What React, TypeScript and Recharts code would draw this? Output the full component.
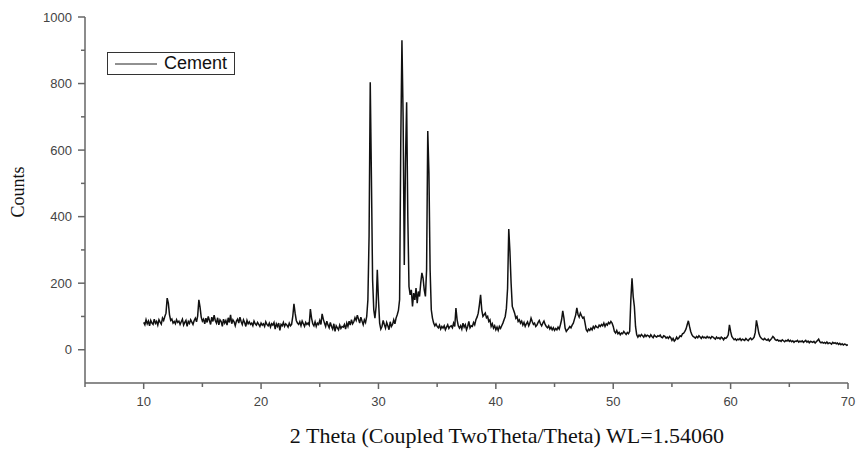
import React from "react";
import {
  LineChart,
  Line,
  XAxis,
  YAxis,
  Legend,
} from "recharts";

// scan grid of the diffractometer (degrees 2θ)
const scanStart = 10;
const scanStep = 0.1;

// counts, one row per degree (x.0 ... x.9)
const counts10to20 = [
  82, 75, 90, 78, 86, 72, 88, 80, 76, 92,
  79, 85, 74, 90, 83, 77, 95, 88, 100, 110,
  155, 140, 105, 88, 92, 80, 85, 78, 90, 82,
  86, 76, 84, 92, 74, 82, 88, 70, 85, 79,
  90, 83, 76, 88, 95, 84, 102, 150, 128, 98,
  86, 92, 78, 95, 82, 100, 88, 76, 98, 85,
  104, 88, 80, 96, 75, 90, 85, 70, 92, 80,
  88, 74, 96, 82, 105, 78, 90, 84, 72, 86,
  92, 80, 98, 85, 76, 90, 82, 70, 88, 78,
  84, 76, 80, 72, 86, 78, 74, 82, 76, 70,
];
const counts20to30 = [
  80, 74, 78, 70, 84, 76, 72, 80, 68, 78,
  74, 82, 62, 78, 70, 80, 58, 76, 72, 82,
  70, 78, 74, 68, 80, 72, 76, 100, 138, 110,
  88, 80, 76, 84, 72, 86, 78, 70, 82, 76,
  80, 74, 122, 95, 78, 72, 84, 70, 80, 76,
  88, 76, 108, 92, 80, 70, 86, 74, 66, 82,
  70, 62, 78, 55, 72, 66, 60, 74, 64, 70,
  68, 76, 62, 80, 70, 86, 74, 90, 78, 84,
  96, 88, 104, 92, 80, 98, 86, 75, 90, 82,
  100, 150, 340, 804, 516, 210, 120, 95, 130, 240,
];
const counts30to40 = [
  150, 80, 62, 70, 88, 76, 65, 82, 72, 60,
  84, 70, 76, 90, 78, 95, 105, 118, 150, 620,
  930, 700, 255, 560, 744, 400, 190, 165, 180, 130,
  170, 150, 185, 140, 175, 160, 200, 231, 215, 180,
  160, 240, 657, 530, 240, 120, 95, 80, 72, 78,
  70, 66, 74, 62, 70, 65, 72, 60, 68, 75,
  64, 70, 72, 66, 80, 70, 125, 90, 72, 65,
  72, 62, 80, 68, 75, 60, 70, 85, 66, 72,
  70, 82, 75, 90, 98, 110, 135, 165, 120, 100,
  105, 110, 96, 100, 85, 90, 70, 78, 65, 72,
];
const counts40to50 = [
  60, 68, 58, 70, 64, 72, 80, 90, 100, 125,
  185, 363, 295, 200, 130, 120, 110, 95, 100, 85,
  90, 80, 86, 74, 82, 70, 78, 84, 72, 80,
  95, 85, 76, 80, 70, 74, 82, 88, 78, 72,
  80, 86, 76, 70, 66, 72, 62, 68, 60, 66,
  58, 64, 60, 68, 62, 75, 90, 117, 95, 65,
  55, 60, 64, 70, 66, 74, 80, 92, 104, 126,
  106, 98, 110, 102, 95, 98, 80, 60, 55, 62,
  58, 65, 60, 70, 64, 72, 68, 66, 74, 70,
  76, 72, 80, 70, 78, 74, 82, 78, 85, 80,
];
const counts50to60 = [
  70, 55, 50, 58, 48, 52, 45, 50, 48, 55,
  50, 46, 52, 48, 55, 150, 215, 160, 130, 70,
  45, 38, 44, 40, 46, 42, 38, 45, 40, 44,
  42, 38, 45, 40, 36, 44, 40, 38, 42, 40,
  44, 38, 36, 42, 40, 35, 38, 34, 40, 36,
  28, 34, 26, 30, 38, 32, 36, 42, 40, 48,
  50, 55, 62, 75, 87, 70, 55, 45, 40, 38,
  35, 40, 36, 42, 38, 34, 40, 36, 38, 35,
  40, 36, 38, 34, 40, 38, 35, 32, 38, 34,
  36, 32, 38, 35, 30, 36, 34, 38, 45, 75,
];
const counts60to70 = [
  55, 40, 35, 30, 33, 28, 32, 30, 34, 28,
  32, 30, 28, 34, 30, 27, 32, 35, 30, 33,
  38, 52, 88, 70, 50, 40, 35, 32, 30, 34,
  30, 28, 32, 26, 30, 34, 40, 36, 30, 28,
  30, 26, 28, 25, 30, 27, 24, 28, 26, 30,
  25, 28, 24, 27, 22, 26, 25, 28, 23, 26,
  24, 27, 22, 25, 28, 23, 26, 21, 25, 24,
  22, 25, 20, 24, 28, 32, 24, 21, 23, 20,
  22, 19, 23, 18, 21, 20, 17, 22, 19, 21,
  18, 20, 16, 19, 15, 18, 14, 17, 16, 13,
  15,
];

const xTicks = [5, 10, 15, 20, 25, 30, 35, 40, 45, 50, 55, 60, 65, 70];
const yTicks = [0, 100, 200, 300, 400, 500, 600, 700, 800, 900, 1000];
const seriesName = "Cement";

const counts = [
  ...counts10to20,
  ...counts20to30,
  ...counts30to40,
  ...counts40to50,
  ...counts50to60,
  ...counts60to70,
];

const data = counts.map((c, i) => ({
  twoTheta: Math.round((scanStart + i * scanStep) * 10) / 10,
  counts: c,
}));

const axisColor = "#666";
const tickFont = "'Liberation Sans', Arial, sans-serif";
const titleFont = "'Liberation Serif', 'Times New Roman', serif";

const XTick = ({ x, y, payload }: any) => {
  const major = payload.value % 10 === 0;
  return (
    <g>
      <line x1={x} y1={y} x2={x} y2={y + (major ? 6 : 4)} stroke={axisColor} strokeWidth={1.5} />
      {major && (
        <text x={x} y={y + 23} textAnchor="middle" fill="#444" fontSize={13} fontFamily={tickFont}>
          {payload.value}
        </text>
      )}
    </g>
  );
};

const YTick = ({ x, y, payload }: any) => {
  const major = payload.value % 200 === 0;
  return (
    <g>
      <line x1={x - (major ? 7 : 4)} y1={y} x2={x} y2={y} stroke={axisColor} strokeWidth={1.5} />
      {major && (
        <text x={x - 13} y={y + 4.5} textAnchor="end" fill="#444" fontSize={13} fontFamily={tickFont}>
          {payload.value}
        </text>
      )}
    </g>
  );
};

const LegendBox = () => (
  <div
    style={{
      width: 126,
      height: 21,
      border: "1px solid #333",
      display: "flex",
      alignItems: "center",
      background: "#fff",
    }}
  >
    <svg width={56} height={21}>
      <line x1={7} y1={11} x2={49} y2={11} stroke="#222" strokeWidth={1} />
    </svg>
    <span style={{ fontFamily: tickFont, fontSize: 18, color: "#111", lineHeight: "21px" }}>
      {seriesName}
    </span>
  </div>
);

export default function App() {
  return (
    <div style={{ position: "absolute", left: 0, top: 0, background: "#fff" }}>
      <LineChart
        width={858}
        height={453}
        data={data}
        margin={{ top: 17, right: 10, left: 0, bottom: 0 }}
      >
        <XAxis
          dataKey="twoTheta"
          type="number"
          domain={[5, 70]}
          ticks={xTicks}
          interval={0}
          height={70}
          tickSize={0}
          tickMargin={0}
          tickLine={false}
          tick={<XTick />}
          axisLine={{ stroke: axisColor, strokeWidth: 1.5 }}
          allowDataOverflow
          label={{
            content: () => (
              <text x={507} y={443} textAnchor="middle" fill="#111" fontSize={22} fontFamily={titleFont}>
                2 Theta (Coupled TwoTheta/Theta) WL=1.54060
              </text>
            ),
          }}
        />
        <YAxis
          type="number"
          domain={[-100, 1000]}
          ticks={yTicks}
          interval={0}
          width={85}
          tickSize={0}
          tickMargin={0}
          tickLine={false}
          tick={<YTick />}
          axisLine={{ stroke: axisColor, strokeWidth: 1.5 }}
          allowDataOverflow
          label={{
            content: () => (
              <text
                x={18}
                y={192}
                transform="rotate(-90 18 192)"
                textAnchor="middle"
                dominantBaseline="central"
                fill="#111"
                fontSize={18}
                fontFamily={titleFont}
              >
                Counts
              </text>
            ),
          }}
        />
        <Legend
          layout="horizontal"
          verticalAlign="middle"
          align="center"
          content={<LegendBox />}
          wrapperStyle={{ left: 107, top: 52, width: 128, height: 23 }}
        />
        <Line
          type="linear"
          dataKey="counts"
          name={seriesName}
          stroke="#111"
          strokeWidth={1.5}
          dot={false}
          isAnimationActive={false}
        />
      </LineChart>
    </div>
  );
}
